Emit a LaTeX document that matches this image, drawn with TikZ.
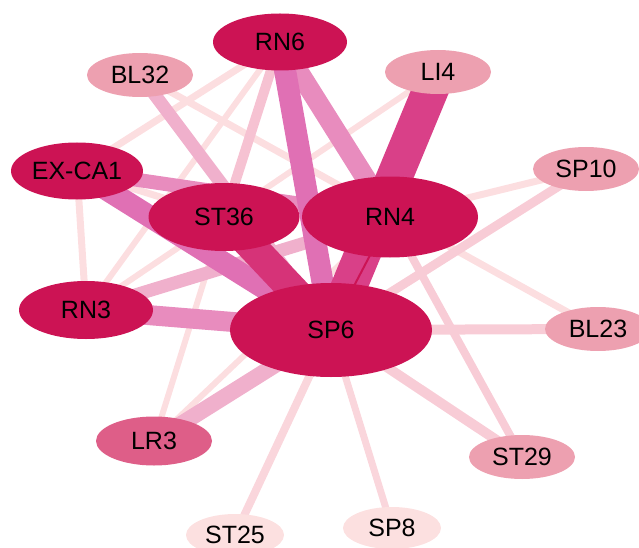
\documentclass[tikz,border=0pt]{standalone}
\usepackage{fontspec}
\setmainfont{Liberation Sans}
\usetikzlibrary{shapes.geometric}
\pgfdeclarelayer{edges}
\pgfsetlayers{edges,main}
% node fills
\definecolor{nodedark}{RGB}{204,19,84}
\definecolor{nodemid}{RGB}{222,94,136}
\definecolor{nodelight}{RGB}{237,160,176}
\definecolor{nodepale}{RGB}{252,224,224}
% edge colours, light to dark
\definecolor{ea}{RGB}{252,222,224}
\definecolor{eab}{RGB}{250,214,220}
\definecolor{eb}{RGB}{248,204,214}
\definecolor{ec}{RGB}{246,194,210}
\definecolor{ed}{RGB}{240,176,204}
\definecolor{ee}{RGB}{232,140,190}
\definecolor{ef}{RGB}{224,112,180}
\definecolor{eg}{RGB}{217,64,136}
\definecolor{eh}{RGB}{214,51,120}
\begin{document}
\begin{tikzpicture}[x=1pt,y=-1pt,
  vtx/.style={ellipse, inner sep=0pt, text=black,
    font=\fontsize{25}{29}\selectfont},
  big/.style={vtx, fill=nodedark},
  mid/.style={vtx, fill=nodemid},
  lite/.style={vtx, fill=nodelight, minimum width=106, minimum height=44},
  pale/.style={vtx, fill=nodepale, minimum width=98, minimum height=42},
  link/.style={line width=#1, line cap=butt}]
\useasboundingbox (0,0) rectangle (639,548);

% vertices
\node[big, minimum width=134, minimum height=57] (RN6) at (280,42) {RN6};
\node[lite] (BL32) at (140,75) {BL32};
\node[lite] (LI4) at (438,72) {LI4};
\node[big, minimum width=132, minimum height=57] (EXCA1) at (77,171) {EX-CA1};
\node[lite] (SP10) at (586,169) {SP10};
\node[big, minimum width=151, minimum height=68] (ST36) at (224,217) {ST36};
\node[big, minimum width=176, minimum height=81] (RN4) at (390,217) {RN4};
\node[big, minimum width=134, minimum height=58] (RN3) at (86,310) {RN3};
\node[big, minimum width=202, minimum height=94] (SP6) at (331,330) {SP6};
\node[lite] (BL23) at (598,329) {BL23};
\node[mid, minimum width=116, minimum height=49] (LR3) at (154,441) {LR3};
\node[lite] (ST29) at (522,457) {ST29};
\node[pale] (ST25) at (235,535) {ST25};
\node[pale] (SP8) at (392,528) {SP8};

\begin{pgfonlayer}{edges}
  % faint links
  \draw[ea, link=7] (RN6.center) -- (EXCA1.center);
  \draw[ea, link=6] (RN6.center) -- (RN3.center);
  \draw[ea, link=7] (BL32.center) -- (BL23.center);
  \draw[ea, link=6] (RN3.center) -- (LI4.center);
  \draw[ea, link=7] (EXCA1.center) -- (RN3.center);
  \draw[ea, link=7] (EXCA1.center) -- (ST36.center);
  \draw[ea, link=6] (ST36.center) -- (LR3.center);
  \draw[ea, link=7] (RN4.center) -- (SP10.center);
  \draw[ea, link=6] (RN4.center) -- (LR3.center);
  \draw[eab, link=8] (SP6.center) -- (ST25.center);
  \draw[eab, link=7] (SP6.center) -- (SP8.center);
  % light links
  \draw[eb, link=8] (RN4.center) -- (ST29.center);
  \draw[eb, link=9] (SP6.center) -- (SP10.center);
  \draw[eb, link=10] (SP6.center) -- (BL23.center);
  \draw[eb, link=10] (SP6.center) -- (ST29.center);
  \draw[ec, link=10] (RN6.center) -- (ST36.center);
  % medium links
  \draw[ed, link=13] (BL32.center) -- (SP6.center);
  \draw[ed, link=13] (RN3.center) -- (RN4.center);
  \draw[ed, link=16] (SP6.center) -- (LR3.center);
  \draw[ee, link=20] (RN6.center) -- (RN4.center);
  \draw[ee, link=14] (EXCA1.center) -- (RN4.center);
  \draw[ee, link=20] (RN3.center) -- (SP6.center);
  % strong links
  \draw[ef, link=22] (RN6.center) -- (SP6.center);
  \draw[ef, link=22] (EXCA1.center) -- (SP6.center);
  \draw[eg, link=36] (LI4.center) -- (SP6.center);
  \draw[eh, link=30] (ST36.center) -- (SP6.center);
  \draw[nodedark, link=2] (RN4.center) -- (SP6.center);
\end{pgfonlayer}
\end{tikzpicture}
\end{document}
